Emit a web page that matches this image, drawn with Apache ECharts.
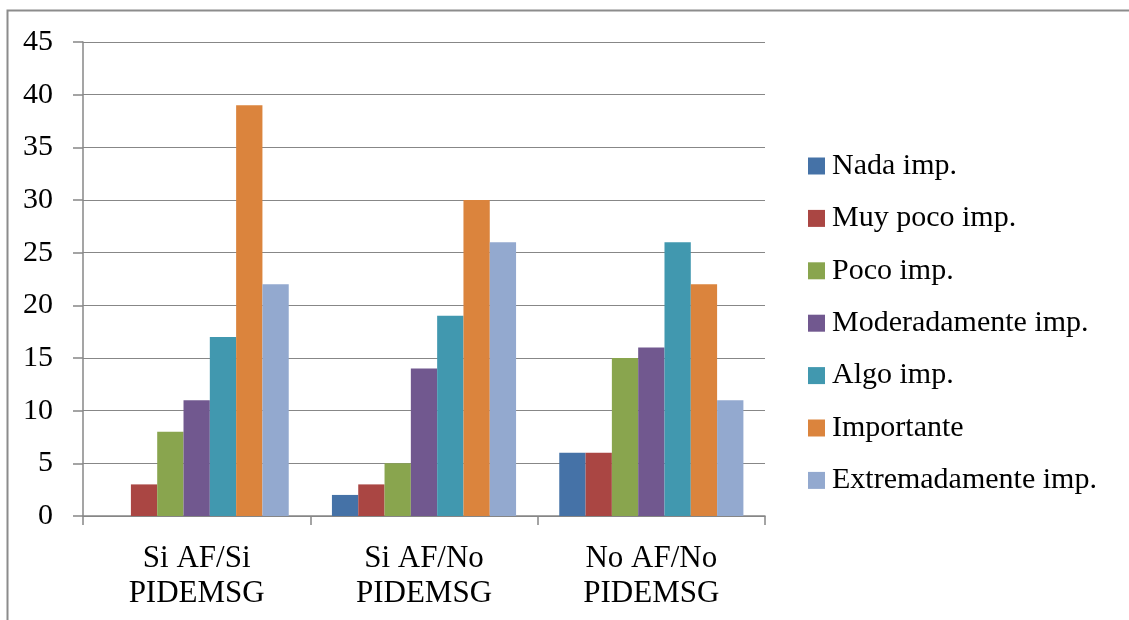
<!DOCTYPE html>
<html>
<head>
<meta charset="utf-8">
<script src="https://cdn.jsdelivr.net/npm/echarts@6/dist/echarts.min.js"></script>
<style>
  html, body { margin: 0; padding: 0; background: #fff; }
  #chart { width: 1129px; height: 620px; }
</style>
</head>
<body>
<div id="chart"></div>
<script>
// Groups on the x axis (two-line labels)
const categories = ['Si AF/Si\nPIDEMSG', 'Si AF/No\nPIDEMSG', 'No AF/No\nPIDEMSG'];

// Importance levels, one bar series each
const seriesNames = [
  'Nada imp.',
  'Muy poco imp.',
  'Poco imp.',
  'Moderadamente imp.',
  'Algo imp.',
  'Importante',
  'Extremadamente imp.'
];

const nadaImp          = [0, 2, 6];
const muyPocoImp       = [3, 3, 6];
const pocoImp          = [8, 5, 15];
const moderadamenteImp = [11, 14, 16];
const algoImp          = [17, 19, 26];
const importante       = [39, 30, 22];
const extremadamenteImp = [22, 26, 11];

const seriesValues = [nadaImp, muyPocoImp, pocoImp, moderadamenteImp, algoImp, importante, extremadamenteImp];

const colors = ['#4572A7', '#AA4643', '#89A54E', '#71588F', '#4198AF', '#DB843D', '#93A9CF'];

const yTicks = { min: 0, max: 45, interval: 5 };

const FONT = "'Liberation Serif', 'Times New Roman', serif";
const GREY = '#878787';

const chart = echarts.init(document.getElementById('chart'), null, { renderer: 'canvas' });

chart.setOption({
  animation: false,
  backgroundColor: '#ffffff',
  color: colors,
  graphic: [{
    type: 'rect',
    silent: true,
    z: -1,
    shape: { x: 7.5, y: 10.5, width: 1300, height: 800 },
    style: { fill: 'none', stroke: '#8c8c8c', lineWidth: 2 }
  }],
  grid: { left: 83, top: 42, width: 682, height: 474, containLabel: false },
  legend: {
    orient: 'vertical',
    left: 808,
    top: 151,
    padding: 0,
    itemWidth: 17,
    itemHeight: 17,
    itemGap: 22.4,
    icon: 'rect',
    textStyle: { fontFamily: FONT, fontSize: 30, color: '#000', lineHeight: 30, padding: [0, 0, 0, 2] },
    data: seriesNames
  },
  xAxis: {
    type: 'category',
    data: categories,
    axisLine: { lineStyle: { color: GREY, width: 1.5 } },
    axisTick: { show: true, length: 9, alignWithLabel: false, lineStyle: { color: GREY, width: 1.5 } },
    axisLabel: { fontFamily: FONT, fontSize: 31, color: '#000', lineHeight: 35, margin: 25 },
    splitLine: { show: false }
  },
  yAxis: {
    type: 'value',
    min: yTicks.min,
    max: yTicks.max,
    interval: yTicks.interval,
    axisLine: { show: true, lineStyle: { color: GREY, width: 1.5 } },
    axisTick: { show: true, length: 10, lineStyle: { color: GREY, width: 1.5 } },
    axisLabel: { fontFamily: FONT, fontSize: 30, color: '#000', margin: 30 },
    splitLine: { show: true, lineStyle: { color: GREY, width: 1.2 } }
  },
  series: seriesNames.map((name, i) => ({
    name: name,
    type: 'bar',
    data: seriesValues[i],
    barGap: '0%',
    barCategoryGap: '19%',
    itemStyle: { color: colors[i] }
  }))
});
</script>
</body>
</html>
